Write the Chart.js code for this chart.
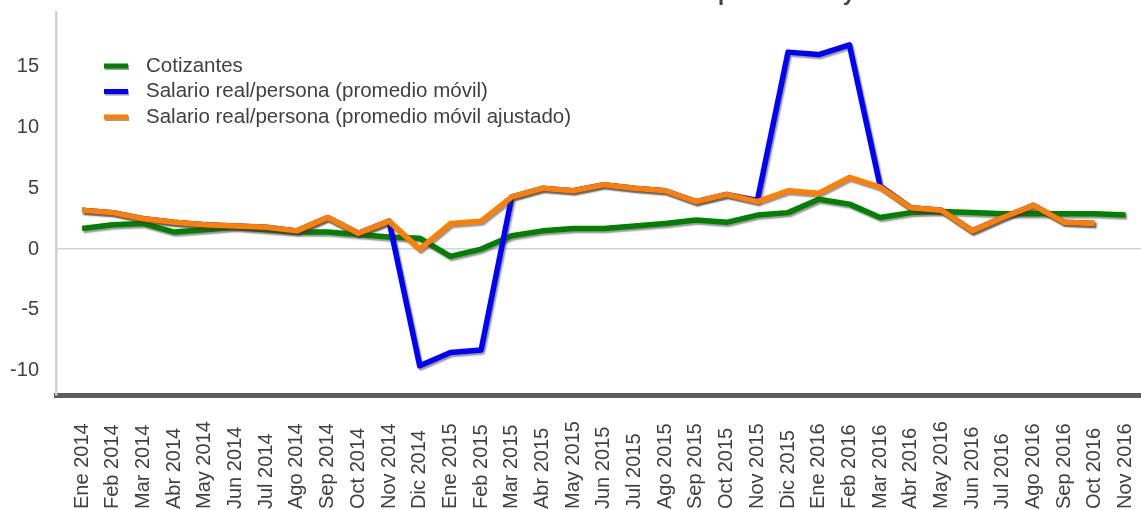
<!DOCTYPE html>
<html>
<head>
<meta charset="utf-8">
<script src="https://cdn.jsdelivr.net/npm/chart.js@4.4.1/dist/chart.umd.min.js"></script>
<style>
  html, body { margin: 0; padding: 0; background: #fff; }
  #wrap { width: 1141px; height: 510px; position: relative; }
</style>
</head>
<body>
<div id="wrap"><canvas id="chart"></canvas></div>
<script>
const FONT = '"Liberation Sans", Arial, sans-serif';

const categories = [
    'Ene 2014', 'Feb 2014', 'Mar 2014', 'Abr 2014', 'May 2014', 'Jun 2014',
    'Jul 2014', 'Ago 2014', 'Sep 2014', 'Oct 2014', 'Nov 2014', 'Dic 2014',
    'Ene 2015', 'Feb 2015', 'Mar 2015', 'Abr 2015', 'May 2015', 'Jun 2015',
    'Jul 2015', 'Ago 2015', 'Sep 2015', 'Oct 2015', 'Nov 2015', 'Dic 2015',
    'Ene 2016', 'Feb 2016', 'Mar 2016', 'Abr 2016', 'May 2016', 'Jun 2016',
    'Jul 2016', 'Ago 2016', 'Sep 2016', 'Oct 2016', 'Nov 2016'
];

const cotizantes = [1.7, 2.0, 2.1, 1.4, 1.6, 1.8, 1.6, 1.4, 1.4, 1.2, 1.0, 0.9,
    -0.6, 0.0, 1.1, 1.5, 1.7, 1.7, 1.9, 2.1, 2.4, 2.2, 2.8, 3.0,
    4.1, 3.7, 2.6, 3.0, 3.1, 3.0, 2.9, 2.9, 2.9, 2.9, 2.8];

const salarioMovil = [3.2, 3.0, 2.5, 2.2, 2.0, 1.9, 1.8, 1.5, 2.6, 1.3, 2.3, -9.6,
    -8.5, -8.3, 4.3, 5.0, 4.8, 5.3, 5.0, 4.8, 3.9, 4.5, 4.0, 16.2,
    16.0, 16.8, 5.2, 3.4, 3.2, 1.5, 2.6, 3.6, 2.2, 2.1, null];

const salarioAjustado = [3.2, 3.0, 2.5, 2.2, 2.0, 1.9, 1.8, 1.5, 2.6, 1.3, 2.3, 0.0,
    2.1, 2.3, 4.3, 5.0, 4.8, 5.3, 5.0, 4.8, 3.9, 4.5, 3.9, 4.8,
    4.6, 5.9, 5.1, 3.4, 3.2, 1.5, 2.6, 3.6, 2.2, 2.1, null];

const yTicks = [-10, -5, 0, 5, 10, 15];

const seriesNames = ['Cotizantes', 'Salario real/persona (promedio móvil)',
    'Salario real/persona (promedio móvil ajustado)'];
const seriesColors = ['#008000', '#0000ff', '#ff8000'];

const titleText = 'Crecimiento anual del empleo formal y salarios';

function toPoints(arr) {
    return arr.map((v, i) => ({ x: i, y: v }));
}

// drop shadow under each line, like the original
const shadowPlugin = {
    id: 'shadow',
    beforeDatasetDraw(chart) {
        const ctx = chart.ctx;
        ctx.save();
        ctx.shadowColor = 'rgba(60,60,60,0.55)';
        ctx.shadowOffsetX = 1.5;
        ctx.shadowOffsetY = 2;
        ctx.shadowBlur = 1.5;
    },
    afterDatasetDraw(chart) {
        chart.ctx.restore();
    }
};

// legend inside the plot, top-left
const innerLegend = {
    id: 'innerLegend',
    afterDraw(chart) {
        const ctx = chart.ctx;
        const rows = [66, 91.5, 117];
        chart.data.datasets.forEach((ds, i) => {
            ctx.save();
            ctx.shadowColor = 'rgba(60,60,60,0.5)';
            ctx.shadowOffsetX = 1;
            ctx.shadowOffsetY = 1.5;
            ctx.fillStyle = ds.borderColor;
            ctx.fillRect(104, rows[i] - 2.5, 24, 5);
            ctx.restore();
            ctx.fillStyle = '#404040';
            ctx.font = '20.5px ' + FONT;
            ctx.textBaseline = 'middle';
            ctx.textAlign = 'left';
            ctx.fillText(ds.label, 146, rows[i]);
        });
    }
};

// x labels read bottom-to-top, all starting at the bottom edge
const xLabels = {
    id: 'xLabels',
    afterDraw(chart) {
        const ctx = chart.ctx;
        const xs = chart.scales.x;
        ctx.save();
        ctx.fillStyle = '#404040';
        ctx.font = '20px ' + FONT;
        ctx.textAlign = 'left';
        ctx.textBaseline = 'middle';
        categories.forEach((lab, i) => {
            const x = xs.getPixelForValue(i);
            ctx.save();
            ctx.translate(x, 509);
            ctx.rotate(-Math.PI / 2);
            ctx.fillText(lab, 0, 0);
            ctx.restore();
        });
        ctx.restore();
    }
};

// title cut off at the top edge, only descenders visible
const cutTitle = {
    id: 'cutTitle',
    afterDraw(chart) {
        const ctx = chart.ctx;
        ctx.save();
        ctx.font = 'bold 22px ' + FONT;
        ctx.fillStyle = '#404040';
        ctx.textBaseline = 'alphabetic';
        ctx.textAlign = 'left';
        const pre = ctx.measureText('Crecimiento anual del em').width;
        ctx.fillText(titleText, 718 - pre, -0.5);
        ctx.restore();
    }
};

const ctx = document.getElementById('chart').getContext('2d');
new Chart(ctx, {
    type: 'line',
    data: {
        datasets: [
            { label: seriesNames[0], data: toPoints(cotizantes), borderColor: seriesColors[0], order: 3 },
            { label: seriesNames[1], data: toPoints(salarioMovil), borderColor: seriesColors[1], order: 2 },
            { label: seriesNames[2], data: toPoints(salarioAjustado), borderColor: seriesColors[2], order: 1 }
        ]
    },
    options: {
        responsive: true,
        maintainAspectRatio: false,
        animation: false,
        layout: { padding: { top: 3, left: 0, right: 0, bottom: 0 } },
        elements: {
            line: { borderWidth: 5.5, tension: 0, borderJoinStyle: 'round', fill: false },
            point: { radius: 0, hoverRadius: 0 }
        },
        plugins: {
            legend: { display: false },
            tooltip: { enabled: false }
        },
        scales: {
            x: {
                type: 'linear',
                min: -0.85,
                max: 34.5,
                afterFit(scale) { scale.height = 115; },
                ticks: { display: false },
                grid: { display: false },
                border: { display: true, color: '#5c5c5c', width: 5 }
            },
            y: {
                min: -12,
                max: 19.5,
                afterFit(scale) { scale.width = 56; },
                afterBuildTicks(scale) { scale.ticks = yTicks.map(v => ({ value: v })); },
                ticks: {
                    color: '#404040',
                    font: { family: FONT, size: 20 },
                    padding: 0
                },
                grid: {
                    drawTicks: true,
                    tickLength: 17,
                    tickColor: 'rgba(0,0,0,0)',
                    lineWidth: 1.5,
                    color: c => (c.tick && c.tick.value === 0 ? '#d4d4d4' : 'rgba(0,0,0,0)')
                },
                border: { display: true, color: '#cfcfcf', width: 2.5 }
            }
        }
    },
    plugins: [shadowPlugin, innerLegend, xLabels, cutTitle]
});
</script>
</body>
</html>
